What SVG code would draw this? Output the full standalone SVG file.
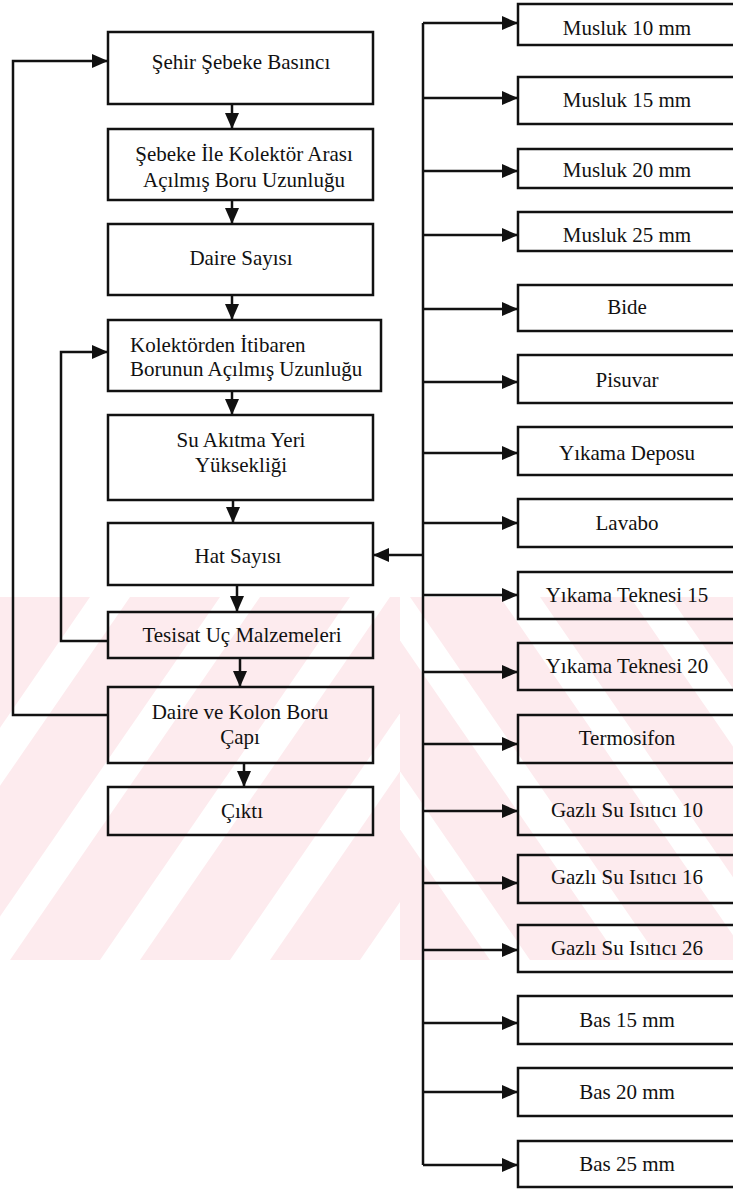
<svg xmlns="http://www.w3.org/2000/svg" width="733" height="1189" viewBox="0 0 733 1189">
<style>
.box{fill:none;stroke:#111;stroke-width:2.5}
.t{font-family:'Liberation Serif','Tinos','DejaVu Serif',serif;font-size:21px;fill:#111;text-anchor:middle}
.tl{text-anchor:start}
.ln{fill:none;stroke:#111;stroke-width:2.5}
.wm{fill:#fdebee}
</style>
<defs>
<marker id="ah" markerUnits="userSpaceOnUse" markerWidth="16" markerHeight="14" refX="16" refY="7" orient="auto">
<path d="M0,0 L16,7 L0,14 Z" fill="#111"/>
</marker>
<clipPath id="cl"><rect x="0" y="597" width="400" height="363"/></clipPath>
<clipPath id="cr"><rect x="400" y="597" width="333" height="363"/></clipPath>
</defs>
<rect x="0" y="0" width="733" height="1189" fill="#fff"/>
<g id="watermark">
<g clip-path="url(#cl)">
<polygon class="wm" points="-380,960 -290,960 -40,597 -130,597"/>
<polygon class="wm" points="-250,960 -160,960 90,597 0,597"/>
<polygon class="wm" points="-120,960 -30,960 220,597 130,597"/>
<polygon class="wm" points="10,960 100,960 350,597 260,597"/>
<polygon class="wm" points="140,960 230,960 480,597 390,597"/>
<polygon class="wm" points="270,960 360,960 610,597 520,597"/>
</g>
<g clip-path="url(#cr)">
<polygon class="wm" points="150,597 240,597 490,960 400,960"/>
<polygon class="wm" points="280,597 370,597 620,960 530,960"/>
<polygon class="wm" points="410,597 500,597 750,960 660,960"/>
<polygon class="wm" points="540,597 630,597 880,960 790,960"/>
<polygon class="wm" points="670,597 760,597 1010,960 920,960"/>
</g>
</g>
<g id="connectors">
<line class="ln" x1="232" y1="104" x2="232" y2="129" marker-end="url(#ah)"/>
<line class="ln" x1="232" y1="200" x2="232" y2="224" marker-end="url(#ah)"/>
<line class="ln" x1="232" y1="295" x2="232" y2="320" marker-end="url(#ah)"/>
<line class="ln" x1="232" y1="391" x2="232" y2="415" marker-end="url(#ah)"/>
<line class="ln" x1="233" y1="500" x2="233" y2="523" marker-end="url(#ah)"/>
<line class="ln" x1="237" y1="585" x2="237" y2="612" marker-end="url(#ah)"/>
<line class="ln" x1="240" y1="658" x2="240" y2="687" marker-end="url(#ah)"/>
<line class="ln" x1="244" y1="763" x2="244" y2="787" marker-end="url(#ah)"/>
<polyline class="ln" points="108,715 13,715 13,61 108,61" marker-end="url(#ah)"/>
<polyline class="ln" points="108,641 61,641 61,352 108,352" marker-end="url(#ah)"/>
<line class="ln" x1="423" y1="23" x2="423" y2="1165"/>
<line class="ln" x1="423" y1="555" x2="373" y2="555" marker-end="url(#ah)"/>
<line class="ln" x1="423" y1="23" x2="518" y2="23" marker-end="url(#ah)"/>
<line class="ln" x1="423" y1="98" x2="518" y2="98" marker-end="url(#ah)"/>
<line class="ln" x1="423" y1="171" x2="518" y2="171" marker-end="url(#ah)"/>
<line class="ln" x1="423" y1="235" x2="518" y2="235" marker-end="url(#ah)"/>
<line class="ln" x1="423" y1="309" x2="518" y2="309" marker-end="url(#ah)"/>
<line class="ln" x1="423" y1="382" x2="518" y2="382" marker-end="url(#ah)"/>
<line class="ln" x1="423" y1="453" x2="518" y2="453" marker-end="url(#ah)"/>
<line class="ln" x1="423" y1="523" x2="518" y2="523" marker-end="url(#ah)"/>
<line class="ln" x1="423" y1="595" x2="518" y2="595" marker-end="url(#ah)"/>
<line class="ln" x1="423" y1="672" x2="518" y2="672" marker-end="url(#ah)"/>
<line class="ln" x1="423" y1="744" x2="518" y2="744" marker-end="url(#ah)"/>
<line class="ln" x1="423" y1="811" x2="518" y2="811" marker-end="url(#ah)"/>
<line class="ln" x1="423" y1="883" x2="518" y2="883" marker-end="url(#ah)"/>
<line class="ln" x1="423" y1="950" x2="518" y2="950" marker-end="url(#ah)"/>
<line class="ln" x1="423" y1="1023" x2="518" y2="1023" marker-end="url(#ah)"/>
<line class="ln" x1="423" y1="1092" x2="518" y2="1092" marker-end="url(#ah)"/>
<line class="ln" x1="423" y1="1165" x2="518" y2="1165" marker-end="url(#ah)"/>
</g>
<g id="n-sehir"><rect class="box" x="108" y="32" width="265" height="72"/><text class="t" x="241" y="69">Şehir Şebeke Basıncı</text></g>
<g id="n-sebeke"><rect class="box" x="108" y="129" width="265" height="71"/><text class="t" x="244" y="161">Şebeke İle Kolektör Arası</text><text class="t" x="244" y="187">Açılmış Boru Uzunluğu</text></g>
<g id="n-daire-sayisi"><rect class="box" x="108" y="224" width="265" height="71"/><text class="t" x="241" y="265">Daire Sayısı</text></g>
<g id="n-kolektor"><rect class="box" x="108" y="320" width="273" height="71"/><text class="t tl" x="130" y="352">Kolektörden İtibaren</text><text class="t tl" x="130" y="376">Borunun Açılmış Uzunluğu</text></g>
<g id="n-su-akitma"><rect class="box" x="108" y="415" width="265" height="85"/><text class="t" x="241" y="447">Su Akıtma Yeri</text><text class="t" x="241" y="472">Yüksekliği</text></g>
<g id="n-hat"><rect class="box" x="108" y="523" width="265" height="62"/><text class="t" x="238" y="563">Hat Sayısı</text></g>
<g id="n-tesisat"><rect class="box" x="108" y="612" width="265" height="46"/><text class="t" x="242" y="642">Tesisat Uç Malzemeleri</text></g>
<g id="n-daire-kolon"><rect class="box" x="108" y="687" width="265" height="76"/><text class="t" x="240" y="719">Daire ve Kolon Boru</text><text class="t" x="240" y="744">Çapı</text></g>
<g id="n-cikti"><rect class="box" x="108" y="787" width="265" height="48"/><text class="t" x="242" y="818">Çıktı</text></g>
<g id="n-musluk10"><rect class="box" x="518" y="4" width="220" height="41"/><text class="t" x="627" y="35">Musluk 10 mm</text></g>
<g id="n-musluk15"><rect class="box" x="518" y="77" width="220" height="47"/><text class="t" x="627" y="107">Musluk 15 mm</text></g>
<g id="n-musluk20"><rect class="box" x="518" y="149" width="220" height="39"/><text class="t" x="627" y="177">Musluk 20 mm</text></g>
<g id="n-musluk25"><rect class="box" x="518" y="212" width="220" height="39"/><text class="t" x="627" y="242">Musluk 25 mm</text></g>
<g id="n-bide"><rect class="box" x="518" y="285" width="220" height="46"/><text class="t" x="627" y="314">Bide</text></g>
<g id="n-pisuvar"><rect class="box" x="518" y="355" width="220" height="48"/><text class="t" x="627" y="387">Pisuvar</text></g>
<g id="n-yikama-deposu"><rect class="box" x="518" y="427" width="220" height="48"/><text class="t" x="627" y="460">Yıkama Deposu</text></g>
<g id="n-lavabo"><rect class="box" x="518" y="499" width="220" height="48"/><text class="t" x="627" y="530">Lavabo</text></g>
<g id="n-teknesi15"><rect class="box" x="518" y="572" width="220" height="47"/><text class="t" x="627" y="602">Yıkama Teknesi 15</text></g>
<g id="n-teknesi20"><rect class="box" x="518" y="643" width="220" height="47"/><text class="t" x="627" y="673">Yıkama Teknesi 20</text></g>
<g id="n-termosifon"><rect class="box" x="518" y="715" width="220" height="48"/><text class="t" x="627" y="745">Termosifon</text></g>
<g id="n-gazli10"><rect class="box" x="518" y="787" width="220" height="48"/><text class="t" x="627" y="817">Gazlı Su Isıtıcı 10</text></g>
<g id="n-gazli16"><rect class="box" x="518" y="855" width="220" height="48"/><text class="t" x="627" y="884">Gazlı Su Isıtıcı 16</text></g>
<g id="n-gazli26"><rect class="box" x="518" y="925" width="220" height="47"/><text class="t" x="627" y="955">Gazlı Su Isıtıcı 26</text></g>
<g id="n-bas15"><rect class="box" x="518" y="996" width="220" height="48"/><text class="t" x="627" y="1027">Bas 15 mm</text></g>
<g id="n-bas20"><rect class="box" x="518" y="1068" width="220" height="48"/><text class="t" x="627" y="1099">Bas 20 mm</text></g>
<g id="n-bas25"><rect class="box" x="518" y="1141" width="220" height="46"/><text class="t" x="627" y="1171">Bas 25 mm</text></g>
</svg>
